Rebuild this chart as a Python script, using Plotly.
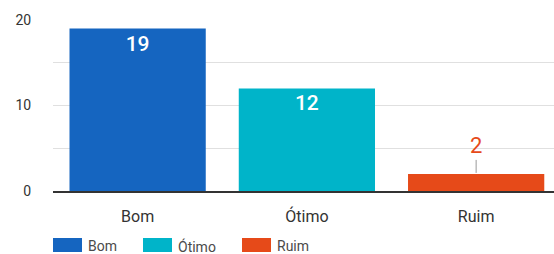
import plotly.graph_objects as go

categories = ["Bom", "Ótimo", "Ruim"]
values = [19, 12, 2]
colors = ["#1565C0", "#00B4C9", "#E64A19"]
y_tickvals = [0, 5, 10, 15, 20]
y_ticktext = ["0", "", "10", "", "20"]

W, H = 554, 254
L, R, T, B = 53, 0, 20, 63

def px_x(p):
    return (p - L) / (W - L - R)

def px_y(p):
    return (H - B - p) / (H - T - B)

fig = go.Figure()
for cat, val, col in zip(categories, values, colors):
    inside = val >= 5
    fig.add_trace(go.Bar(
        x=[cat], y=[val], name=cat,
        marker=dict(color=col, line=dict(width=0)),
        text=[str(val)] if inside else None,
        textposition="inside" if inside else "none",
        insidetextanchor="end",
        textfont=dict(color="white", size=21, family="Roboto", weight=500),
        hoverinfo="skip",
    ))
    if not inside:
        fig.add_annotation(
            x=cat, y=val, text=str(val), showarrow=True,
            arrowhead=0, arrowwidth=1, arrowcolor="#999999",
            ax=0, ay=-28, standoff=1,
            font=dict(color=col, size=22, family="Roboto"),
        )

# custom legend (wide swatches like the original)
legend_x = [53, 143, 242]
for cat, col, lx in zip(categories, colors, legend_x):
    fig.add_shape(type="rect", xref="paper", yref="paper",
                  x0=px_x(lx), x1=px_x(lx + 29), y0=px_y(252), y1=px_y(238),
                  fillcolor=col, line=dict(width=0), layer="above")
    fig.add_annotation(xref="paper", yref="paper", x=px_x(lx + 33), y=px_y(246),
                       xanchor="left", yanchor="middle", showarrow=False,
                       text=cat, font=dict(size=14, color="#4a4a4a", family="Roboto"))

fig.update_layout(
    width=W, height=H,
    margin=dict(l=L, r=R, t=T, b=B),
    paper_bgcolor="white", plot_bgcolor="white",
    barmode="overlay", bargap=0.195,
    font=dict(family="Roboto", color="#444444"),
    showlegend=False,
    xaxis=dict(range=[-0.5, 2.46], showline=True, linecolor="#333333", linewidth=1.5,
               showgrid=False, tickfont=dict(size=16, color="#333333"),
               ticks="outside", ticklen=10, tickcolor="rgba(0,0,0,0)", fixedrange=True,
               automargin=False),
    yaxis=dict(range=[0, 20], tickvals=y_tickvals, ticktext=y_ticktext,
               showgrid=True, gridcolor="#E0E0E0", gridwidth=1, zeroline=False,
               tickfont=dict(size=14, color="#333333"),
               ticks="outside", ticklen=18, tickcolor="rgba(0,0,0,0)", fixedrange=True,
               automargin=False),
)

fig.write_html("out.html", config={"displayModeBar": False},
               post_script="document.body.style.margin='0';document.body.style.padding='0';")
